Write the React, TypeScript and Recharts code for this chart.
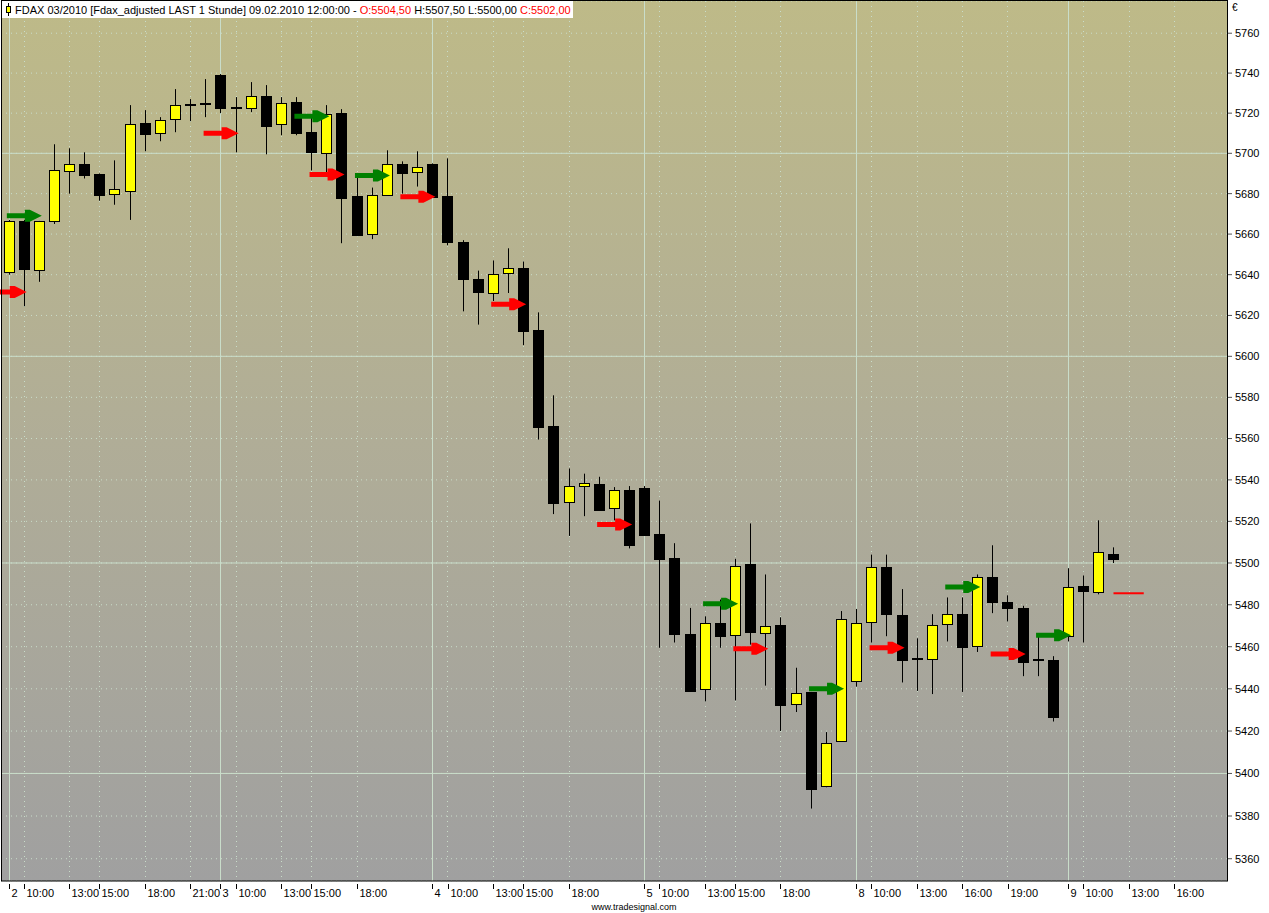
import React from "react";
import {
  Bar,
  CartesianGrid,
  ComposedChart,
  Line,
  XAxis,
  YAxis,
} from "recharts";

// FDAX 03/2010, Stundenkerzen 02.02. – 09.02.2010
const DAYS = ["02", "03", "04", "05", "08", "09"];
const HOURS = [9, 10, 11, 12, 13, 14, 15, 16, 17, 18, 19, 20, 21, 22];
const LAST_DAY_SLOTS = 11; // 9:00 .. 19:00 am 09.02.

const OPEN = [
  5641.5, 5666.5, 5642.5, 5666.5, 5691, 5694.5, 5689.5, 5680, 5681.5, 5715, 5710, 5717, 5724, 5725,
  5739, 5722.5, 5722.5, 5728.5, 5714.5, 5725.5, 5710.5, 5700, 5720, 5679, 5660, 5679.5, 5694.5, 5690.5,
  5694.5, 5679, 5656, 5638, 5631, 5641, 5643.5, 5613, 5566, 5529.5, 5537, 5538, 5526.5, 5535,
  5536, 5514, 5502.5, 5466, 5440, 5471.5, 5465.5, 5499.5, 5466.5, 5470.5, 5433, 5438.5, 5394, 5415.5,
  5443.5, 5472, 5498, 5475, 5454.5, 5454, 5471, 5475.5, 5460.5, 5493.5, 5481.5, 5478.5, 5454, 5453.5,
  5465, 5489, 5486, 5504.5,
];
const HIGH = [
  5667, 5667, 5666.5, 5704.5, 5702.5, 5700.5, 5690, 5696.5, 5724, 5721.5, 5718, 5732, 5727, 5737,
  5739.5, 5728, 5735.5, 5734, 5728, 5728, 5718, 5724, 5722, 5688.5, 5683, 5701.5, 5696, 5701,
  5695, 5697.5, 5657, 5642, 5647, 5653, 5646.5, 5621.5, 5581, 5545.5, 5543, 5541.5, 5536.5, 5537,
  5537, 5530, 5509.5, 5478.5, 5474.5, 5482.5, 5502, 5519, 5494.5, 5474, 5450, 5438.5, 5419.5, 5477,
  5478, 5504, 5504, 5487.5, 5464, 5475.5, 5483.5, 5483.5, 5494.5, 5508.5, 5484.5, 5479.5, 5465, 5455.5,
  5497.5, 5494, 5520.5, 5507.5,
];
const LOW = [
  5640, 5624.5, 5636.5, 5665, 5680, 5687.5, 5676.5, 5674.5, 5667, 5701, 5706, 5710.5, 5716, 5718,
  5720, 5700.5, 5720.5, 5699.5, 5709, 5709, 5691.5, 5690.5, 5655.5, 5659, 5657.5, 5679.5, 5680, 5683.5,
  5678.5, 5654.5, 5622, 5615.5, 5627, 5631, 5605.5, 5559.5, 5523.5, 5513, 5522.5, 5525, 5520.5, 5507,
  5513, 5459.5, 5462, 5438.5, 5434, 5459.5, 5434.5, 5461, 5441.5, 5420, 5429, 5383.5, 5393.5, 5415.5,
  5441, 5462, 5465, 5443, 5439, 5437.5, 5462.5, 5438.5, 5457.5, 5476, 5472, 5446, 5446, 5424.5,
  5462.5, 5462, 5485, 5500,
];
const CLOSE = [
  5666.5, 5643, 5666.5, 5691.5, 5694.5, 5689, 5679.5, 5682.5, 5714.5, 5709.5, 5716.5, 5724, 5724.5, 5724.5,
  5722.5, 5723, 5728.5, 5713.5, 5725, 5710, 5700.5, 5719.5, 5678, 5659.5, 5679.5, 5694.5, 5690, 5693,
  5678.5, 5656, 5638, 5631.5, 5640.5, 5643.5, 5612.5, 5565.5, 5529, 5537, 5538.5, 5525.5, 5535, 5508.5,
  5513.5, 5502, 5466, 5439, 5471.5, 5465, 5498.5, 5467, 5470, 5432.5, 5438, 5392.5, 5414.5, 5473,
  5471.5, 5498, 5475.5, 5453.5, 5454, 5470.5, 5475.5, 5460, 5493.5, 5481.5, 5478.5, 5452.5, 5453.5, 5426.5,
  5488.5, 5486.5, 5505.5, 5502,
];

// Signale: [Kerzen-Index, Kurs]
const LONG_SIGNALS: [number, number][] = [
  [2, 5669], [21, 5718.5], [25, 5689], [48, 5480.5], [55, 5440], [64, 5488.5], [70, 5465.5],
];
const SHORT_SIGNALS: [number, number][] = [
  [1, 5631.5], [15, 5710], [22, 5689.5], [28, 5678.5], [34, 5625.5], [41, 5518.5], [50, 5459],
  [59, 5459.5], [67, 5456.5],
];
const STOP_LEVEL = 5485.5;
const STOP_SLOTS = [73, 74, 75];

const X_TICKS: [number, string][] = [
  [0, "2"], [1, "10:00"], [4, "13:00"], [6, "15:00"], [9, "18:00"], [12, "21:00"],
  [14, "3"], [15, "10:00"], [18, "13:00"], [20, "15:00"], [23, "18:00"],
  [28, "4"], [29, "10:00"], [32, "13:00"], [34, "15:00"], [37, "18:00"],
  [42, "5"], [43, "10:00"], [46, "13:00"], [48, "15:00"], [51, "18:00"],
  [56, "8"], [57, "10:00"], [60, "13:00"], [63, "16:00"], [66, "19:00"],
  [70, "9"], [71, "10:00"], [74, "13:00"], [77, "16:00"],
];
const Y_TICKS = [
  5360, 5380, 5400, 5420, 5440, 5460, 5480, 5500, 5520, 5540, 5560, 5580, 5600, 5620, 5640, 5660,
  5680, 5700, 5720, 5740, 5760,
];
const Y_MAJOR = [5400, 5500, 5600, 5700];
const Y_DOMAIN = [5349.6, 5776.2];

const FONT = '"Liberation Sans", Arial, sans-serif';
const GRID = "#c9ddca";

const slots = DAYS.flatMap((d, di) =>
  (di === DAYS.length - 1 ? HOURS.slice(0, LAST_DAY_SLOTS) : HOURS).map((h) => `${d}.02. ${h}:00`)
);
const tickLabel = new Map(X_TICKS.map(([i, l]) => [slots[i], l]));

const data = slots.map((t, i) => {
  const has = i < OPEN.length;
  const long = LONG_SIGNALS.find((s) => s[0] === i);
  const short = SHORT_SIGNALS.find((s) => s[0] === i);
  const lbl = tickLabel.get(t);
  return {
    t,
    range: has ? [LOW[i], HIGH[i]] : null,
    o: has ? OPEN[i] : null,
    h: has ? HIGH[i] : null,
    l: has ? LOW[i] : null,
    c: has ? CLOSE[i] : null,
    long: long ? long[1] : null,
    short: short ? short[1] : null,
    stop: STOP_SLOTS.includes(i) ? STOP_LEVEL : null,
    // senkrechte Gitterlinie: durchgezogen am Tagesbeginn, gepunktet bei Stunden-Ticks
    grid: lbl ? Y_DOMAIN : null,
    gridSolid: lbl ? lbl.length === 1 : false,
  };
});

function GridLine(props: any) {
  const { x, y, width, height, payload } = props;
  if (!payload || !payload.grid) return <g />;
  const cx = Math.round(x + width / 2) + 0.5;
  return (
    <line
      x1={cx}
      x2={cx}
      y1={Math.min(y, y + height)}
      y2={Math.max(y, y + height)}
      stroke={GRID}
      strokeWidth={1}
      strokeDasharray={payload.gridSolid ? undefined : "1 4"}
    />
  );
}

function Candle(props: any) {
  const { x, y, width, height, payload } = props;
  if (!payload || payload.o == null) return <g />;
  const top = Math.min(y, y + height);
  const h = Math.abs(height);
  const lnH = Math.log(payload.h);
  const lnL = Math.log(payload.l);
  // log-Skala: Position innerhalb der Hoch/Tief-Spanne
  const yOf = (p: number) => (lnH === lnL ? top : top + ((lnH - Math.log(p)) / (lnH - lnL)) * h);
  const cx = Math.round(x + width / 2) + 0.5;
  const up = payload.c >= payload.o;
  const b1 = Math.round(yOf(Math.max(payload.o, payload.c)));
  const b2 = Math.round(yOf(Math.min(payload.o, payload.c)));
  return (
    <g>
      <line x1={cx} x2={cx} y1={top} y2={top + h} stroke="#000" strokeWidth={1} />
      <rect
        x={cx - 5}
        y={b1 + 0.5}
        width={10}
        height={Math.max(1, b2 - b1)}
        fill={up ? "#ffff00" : "#000"}
        stroke="#000"
        strokeWidth={1}
      />
    </g>
  );
}

function arrowDot(color: string) {
  return (p: any) => {
    const key = `${color}-${p.index}`;
    if (p.value == null || p.cy == null || isNaN(p.cy)) return <g key={key} />;
    const tip = p.cx + 3;
    const cy = p.cy;
    const pts = [
      [tip - 35, cy - 2.5], [tip - 17, cy - 2.5], [tip - 17, cy - 6], [tip - 12, cy - 6], [tip, cy],
      [tip - 12, cy + 6], [tip - 17, cy + 6], [tip - 17, cy + 2.5], [tip - 35, cy + 2.5],
    ];
    return <polygon key={key} points={pts.map((q) => q.join(",")).join(" ")} fill={color} />;
  };
}

function XTick(props: any) {
  const { x, y, payload } = props;
  const label = tickLabel.get(payload.value);
  if (!label) return <g />;
  const px = Math.round(x) + 0.5;
  const base = y - 8;
  return (
    <g>
      <line x1={px} x2={px} y1={base + 3} y2={base + 8} stroke="#000" />
      <text x={px + 2} y={base + 16} fontSize={11} fontFamily={FONT} fill="#000">
        {label}
      </text>
    </g>
  );
}

export default function App() {
  return (
    <div style={{ position: "absolute", left: 0, top: 0, width: 1269, height: 913, background: "#fff" }}>
      <svg width={0} height={0} style={{ position: "absolute" }}>
        <defs>
          <linearGradient id="plotBg" x1="0" y1="0" x2="0" y2="1">
            <stop offset="0%" stopColor="#bebA88" />
            <stop offset="50%" stopColor="#b0ad97" />
            <stop offset="100%" stopColor="#a0a0a0" />
          </linearGradient>
        </defs>
      </svg>
      <ComposedChart width={1269} height={913} data={data} margin={{ top: 1, right: 0, bottom: 0, left: 1 }}>
        <CartesianGrid vertical={false} fill="url(#plotBg)" stroke={GRID} strokeDasharray="1 4" />
        <CartesianGrid vertical={false} horizontalValues={Y_MAJOR} stroke={GRID} />
        <XAxis
          dataKey="t"
          interval={0}
          height={32}
          tickLine={false}
          axisLine={false}
          tick={<XTick />}
        />
        <XAxis xAxisId="grid" dataKey="t" hide />
        <YAxis
          orientation="right"
          width={42}
          scale="log"
          domain={Y_DOMAIN}
          allowDataOverflow
          ticks={Y_TICKS}
          interval={0}
          axisLine={false}
          tickSize={5}
          tickMargin={3}
          tickLine={{ stroke: "#555" }}
          tick={{ fill: "#000", fontSize: 11, fontFamily: FONT }}
        />
        <Bar xAxisId="grid" dataKey="grid" barSize={11} shape={<GridLine />} isAnimationActive={false} />
        <Bar dataKey="range" barSize={11} shape={<Candle />} isAnimationActive={false} />
        <Line dataKey="stop" stroke="#ff0000" strokeWidth={2} dot={false} activeDot={false} isAnimationActive={false} />
        <Line dataKey="long" stroke="none" dot={arrowDot("#008000")} activeDot={false} isAnimationActive={false} />
        <Line dataKey="short" stroke="none" dot={arrowDot("#ff0000")} activeDot={false} isAnimationActive={false} />
      </ComposedChart>
      <svg
        width={1269}
        height={913}
        style={{ position: "absolute", left: 0, top: 0, pointerEvents: "none" }}
      >
        <rect x={1.5} y={0.5} width={1226} height={880.5} fill="none" stroke="#000" />
        <rect x={2} y={1} width={571} height={17} fill="#fff" />
        <line x1={8.5} x2={8.5} y1={3} y2={16} stroke="#000" />
        <rect x={6.5} y={6.5} width={4} height={6} fill="#ffff00" stroke="#000" />
        <text x={15} y={14} fontSize={11} fontFamily={FONT} fill="#000" style={{ whiteSpace: "pre" }}>
          FDAX 03/2010 [Fdax_adjusted LAST 1 Stunde] 09.02.2010 12:00:00 -{" "}
          <tspan fill="#ff0000">O:5504,50</tspan> H:5507,50 L:5500,00{" "}
          <tspan fill="#ff0000">C:5502,00</tspan>
        </text>
        <text x={1232} y={11} fontSize={10} fontFamily={FONT} fill="#000">
          €
        </text>
        <text x={634} y={910} fontSize={9} fontFamily={FONT} fill="#000" textAnchor="middle">
          www.tradesignal.com
        </text>
      </svg>
    </div>
  );
}
